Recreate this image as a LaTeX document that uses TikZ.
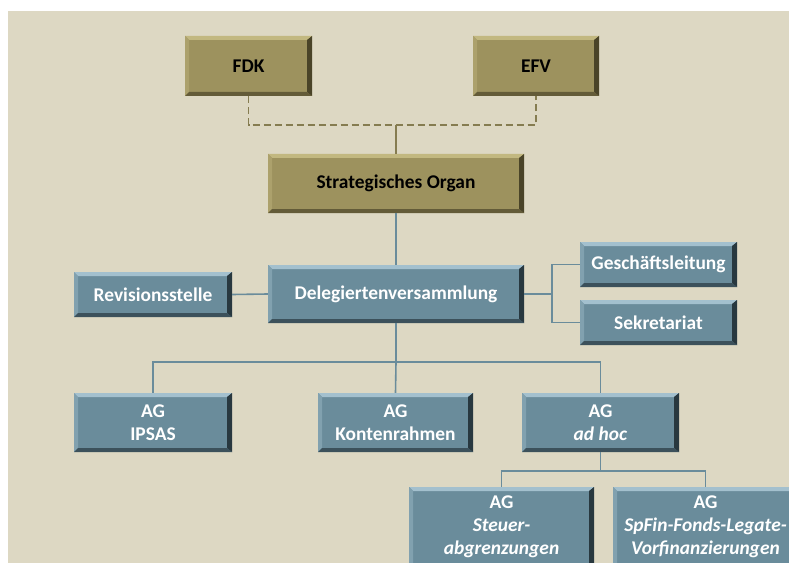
\documentclass[tikz,border=0pt]{standalone}
\usepackage{fontspec}
\setmainfont{Carlito}
\definecolor{bgbeige}{HTML}{DDD8C3}
\definecolor{olive}{HTML}{9D925E}
\definecolor{olivelight}{HTML}{C2B880}
\definecolor{olivedark}{HTML}{4A4428}
\definecolor{bluebox}{HTML}{6A8C9B}
\definecolor{bluelight}{HTML}{A3C0CE}
\definecolor{bluedark}{HTML}{28383F}
\tikzset{
  bev/.style n args={3}{fill=#1, draw=none, inner sep=0pt, align=center,
    font=\fontsize{19.5}{23}\selectfont\bfseries,
    path picture={
      \fill[#2] (path picture bounding box.north west) -- (path picture bounding box.north east)
        -- ([xshift=-4bp,yshift=-4bp]path picture bounding box.north east)
        -- ([xshift=4bp,yshift=-4bp]path picture bounding box.north west) -- cycle;
      \fill[#2!40!#1] (path picture bounding box.north west) -- ([xshift=4bp,yshift=-4bp]path picture bounding box.north west)
        -- ([xshift=4bp,yshift=4bp]path picture bounding box.south west) -- (path picture bounding box.south west) -- cycle;
      \fill[#3] (path picture bounding box.north east) -- (path picture bounding box.south east)
        -- ([xshift=-5bp,yshift=4bp]path picture bounding box.south east)
        -- ([xshift=-5bp,yshift=-4bp]path picture bounding box.north east) -- cycle;
      \fill[#3!70!#1] (path picture bounding box.south west) -- (path picture bounding box.south east)
        -- ([xshift=-5bp,yshift=4bp]path picture bounding box.south east)
        -- ([xshift=4bp,yshift=4bp]path picture bounding box.south west) -- cycle;
    }},
  obox/.style={bev={olive}{olivelight}{olivedark}, text=black},
  bbox/.style={bev={bluebox}{bluelight}{bluedark}, text=white},
  oline/.style={draw=olive!85!black, line width=1.2bp},
  odash/.style={draw=olive!85!black, line width=1.6bp, dash pattern=on 7bp off 4bp},
  bline/.style={draw=bluebox, line width=1.6bp},
}
\begin{document}
\begin{tikzpicture}[x=1bp,y=-1bp]
\useasboundingbox (0,0) rectangle (789,563);
\clip (0,0) rectangle (789,563);
\fill[white] (0,0) rectangle (789,563);
\fill[bgbeige] (8,11) rectangle (789,563);

% olive boxes
\node[obox, minimum width=127bp, minimum height=60bp] (fdk) at (248.5,66) {FDK};
\node[obox, minimum width=126bp, minimum height=60bp] (efv) at (536,66) {EFV};
\node[obox, minimum width=256bp, minimum height=59bp] (strat) at (396,183.5) {Strategisches Organ};

% blue boxes
\node[bbox, minimum width=256bp, minimum height=58bp] (deleg) at (396,294) {Delegiertenversammlung};
\node[bbox, minimum width=158bp, minimum height=45bp] (rev) at (153,294.5) {Revisionsstelle};
\node[bbox, minimum width=157bp, minimum height=45bp] (gl) at (658.5,264.5) {Geschäftsleitung};
\node[bbox, minimum width=157bp, minimum height=45bp] (sek) at (658.5,322.5) {Sekretariat};
\node[bbox, minimum width=158bp, minimum height=59bp] (ipsas) at (153,422.5) {AG\\IPSAS};
\node[bbox, minimum width=155bp, minimum height=59bp] (konten) at (395.5,422.5) {AG\\Kontenrahmen};
\node[bbox, minimum width=157bp, minimum height=59bp] (adhoc) at (600.5,422.5) {AG\\\textit{ad hoc}};
\node[bbox, minimum width=185bp, minimum height=80bp] (steuer) at (501.5,527) {AG\\\textit{Steuer-}\\\textit{abgrenzungen}};
\node[bbox, minimum width=185bp, minimum height=80bp] (spfin) at (705.5,527) {AG\\\textit{SpFin-Fonds-Legate-}\\\textit{Vorfinanzierungen}};

% connectors
\coordinate (dj) at (396,125);
\draw[odash] (fdk.south) |- (dj) -| (efv.south);
\draw[oline] (dj) -- (strat.north);
\draw[bline] (strat.south) -- (deleg.north);
\draw[bline] (rev.east) -- (deleg.west);
\coordinate (br) at (552,294);
\draw[bline] (deleg.east) -- (br);
\draw[bline] (gl.west) -| (br) |- (sek.west);
\coordinate (bus1) at (396,362);
\draw[bline] (deleg.south) -- (bus1);
\draw[bline] (ipsas.north) |- (bus1) -| (adhoc.north);
\draw[bline] (bus1) -- (konten.north);
\coordinate (bus2) at (600.5,471);
\draw[bline] (adhoc.south) -- (bus2);
\draw[bline] (steuer.north) |- (bus2) -| (spfin.north);
\end{tikzpicture}
\end{document}
